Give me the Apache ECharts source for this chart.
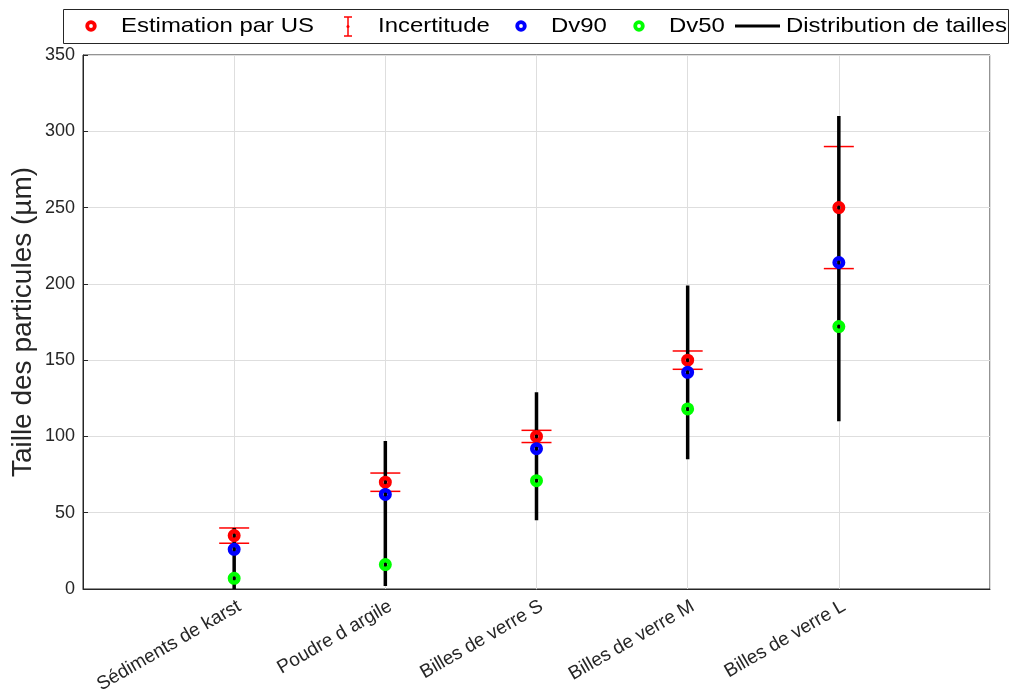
<!DOCTYPE html>
<html>
<head>
<meta charset="utf-8">
<script src="https://cdn.jsdelivr.net/npm/echarts@6/dist/echarts.min.js"></script>
<style>
html,body{margin:0;padding:0;background:#fff;}
#chart{width:1011px;height:695px;}
</style>
</head>
<body>
<div id="chart"></div>
<script>
// ---- data ----
var categories = ['Sédiments de karst', 'Poudre d argile', 'Billes de verre S', 'Billes de verre M', 'Billes de verre L'];
var estimation = [35, 70, 100, 150, 250];
var incertitude = [5, 6, 4, 6, 40];
var dv90 = [26, 62, 92, 142, 214];
var dv50 = [7, 16, 71, 118, 172];
var distMin = [0, 2, 45, 85, 110];
var distMax = [40, 97, 129, 199, 310];
var yTicks = [0, 50, 100, 150, 200, 250, 300, 350];

var FONT = '"Liberation Sans", Arial, Helvetica, sans-serif';
var AX = '#262626';

function pts(arr) { return arr.map(function (v, i) { return [i + 1, v]; }); }
var errData = estimation.map(function (v, i) { return [i + 1, v - incertitude[i], v + incertitude[i]]; });
var distData = distMin.map(function (v, i) { return [i + 1, v, distMax[i]]; });

var chart = echarts.init(document.getElementById('chart'), null, { renderer: 'canvas' });

function ringSeries(name, color, arr) {
  return {
    name: name, type: 'scatter', data: pts(arr), z: 5,
    symbol: 'circle', symbolSize: 8.5,
    itemStyle: { color: 'rgba(0,0,0,0)', borderColor: color, borderWidth: 4.5, opacity: 1 },
    emphasis: { disabled: true }
  };
}

var lx = { text: 91, inc: 348, blue: 521, green: 639, line0: 735, line1: 780 };
var ly = 26;
function legText(x, t) {
  return { type: 'text', x: x, y: ly, scaleX: 1.14, z: 100,
    style: { text: t, fill: '#000', font: '21px ' + FONT, textVerticalAlign: 'middle', textAlign: 'left' } };
}
function legRing(x, color) {
  return { type: 'circle', z: 100, shape: { cx: x, cy: ly, r: 3.8 }, style: { fill: null, stroke: color, lineWidth: 3.8 } };
}

var option = {
  backgroundColor: '#fff',
  animation: false,
  grid: { left: 83, top: 55, right: 21, bottom: 106, show: true, borderColor: AX, borderWidth: 1, backgroundColor: 'transparent', containLabel: false, outerBoundsMode: 'none' },
  xAxis: {
    type: 'value', min: 0, max: 6, interval: 1,
    axisLine: { show: true, lineStyle: { color: AX, width: 1 } },
    axisTick: { show: false },
    splitLine: { show: true, lineStyle: { color: '#dedede', width: 1 } },
    axisLabel: {
      rotate: 30, fontSize: 19, color: AX, fontFamily: FONT, margin: 19,
      padding: [4, -6, 0, 0],
      formatter: function (v) { return categories[v - 1] || ''; }
    }
  },
  yAxis: {
    type: 'value', min: 0, max: 350, interval: 50,
    name: 'Taille des particules (µm)', nameLocation: 'middle', nameGap: 46, nameMoveOverlap: false,
    nameTextStyle: { fontSize: 28, color: AX, fontFamily: FONT },
    axisLine: { show: true, lineStyle: { color: AX, width: 1 } },
    axisTick: { show: true, inside: true, length: 5, lineStyle: { color: AX } },
    splitLine: { show: true, lineStyle: { color: '#dedede', width: 1 } },
    axisLabel: { fontSize: 18, color: AX, fontFamily: FONT, margin: 8,
      formatter: function (v) { return yTicks.indexOf(v) >= 0 ? String(v) : ''; } }
  },
  series: [
    {
      name: 'Incertitude', type: 'custom', data: errData, z: 3,
      renderItem: function (params, api) {
        var x = api.value(0);
        var lo = api.coord([x, api.value(1)]);
        var hi = api.coord([x, api.value(2)]);
        var w = 15;
        var st = { stroke: '#ff0000', lineWidth: 1.5 };
        return { type: 'group', children: [
          { type: 'line', shape: { x1: lo[0], y1: lo[1], x2: hi[0], y2: hi[1] }, style: st },
          { type: 'line', shape: { x1: lo[0] - w, y1: lo[1], x2: lo[0] + w, y2: lo[1] }, style: st },
          { type: 'line', shape: { x1: hi[0] - w, y1: hi[1], x2: hi[0] + w, y2: hi[1] }, style: st }
        ] };
      }
    },
    {
      name: 'Distribution de tailles', type: 'custom', data: distData, z: 4,
      renderItem: function (params, api) {
        var x = api.value(0);
        var lo = api.coord([x, api.value(1)]);
        var hi = api.coord([x, api.value(2)]);
        return { type: 'line', shape: { x1: lo[0], y1: lo[1], x2: hi[0], y2: hi[1] }, style: { stroke: '#000', lineWidth: 3.5 } };
      }
    },
    ringSeries('Estimation par US', '#ff0000', estimation),
    ringSeries('Dv90', '#0000ff', dv90),
    ringSeries('Dv50', '#00ff00', dv50)
  ],
  graphic: [
    { type: 'rect', z: 99, shape: { x: 63.5, y: 9.5, width: 945, height: 34 }, style: { fill: '#fff', stroke: AX, lineWidth: 1 } },
    legRing(lx.text, '#ff0000'),
    legText(lx.text + 30, 'Estimation par US'),
    { type: 'group', z: 100, children: [
      { type: 'line', shape: { x1: lx.inc, y1: 17, x2: lx.inc, y2: 36 }, style: { stroke: '#ff0000', lineWidth: 1.5 }, z: 100 },
      { type: 'line', shape: { x1: lx.inc - 4, y1: 17, x2: lx.inc + 4, y2: 17 }, style: { stroke: '#ff0000', lineWidth: 1.5 }, z: 100 },
      { type: 'line', shape: { x1: lx.inc - 4, y1: 36, x2: lx.inc + 4, y2: 36 }, style: { stroke: '#ff0000', lineWidth: 1.5 }, z: 100 },
      { type: 'circle', shape: { cx: lx.inc, cy: ly + 0.5, r: 1.5 }, style: { fill: '#ff0000' }, z: 100 }
    ] },
    legText(lx.inc + 30, 'Incertitude'),
    legRing(lx.blue, '#0000ff'),
    legText(lx.blue + 30, 'Dv90'),
    legRing(lx.green, '#00ff00'),
    legText(lx.green + 30, 'Dv50'),
    { type: 'line', z: 100, shape: { x1: lx.line0, y1: ly, x2: lx.line1, y2: ly }, style: { stroke: '#000', lineWidth: 3 } },
    legText(lx.line1 + 6, 'Distribution de tailles')
  ]
};
chart.setOption(option);
</script>
</body>
</html>
